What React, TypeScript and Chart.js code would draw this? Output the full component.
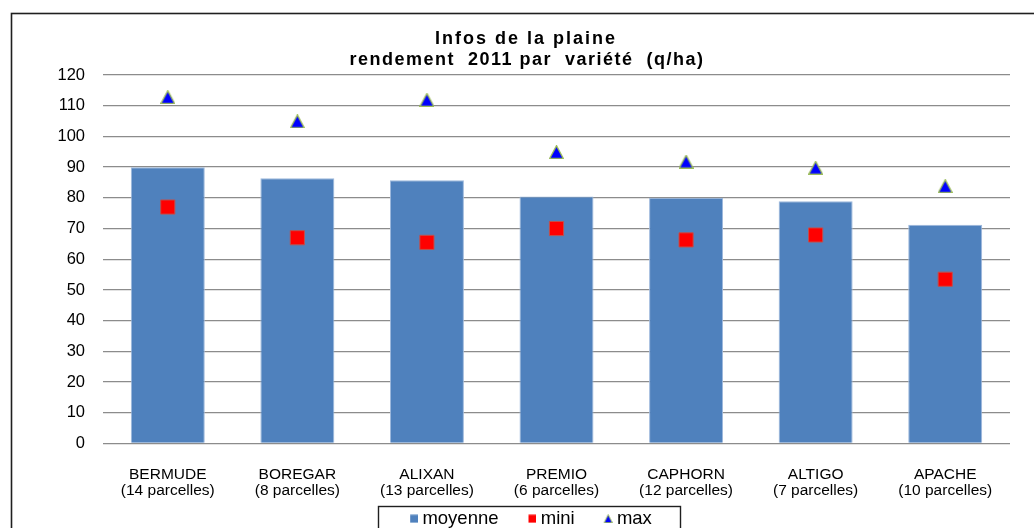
import React, { useEffect, useRef } from 'react';
import { Chart, registerables } from 'chart.js';

Chart.register(...registerables);

// ---- data ----
const categories: string[][] = [
  ['BERMUDE', '(14 parcelles)'],
  ['BOREGAR', '(8 parcelles)'],
  ['ALIXAN', '(13 parcelles)'],
  ['PREMIO', '(6 parcelles)'],
  ['CAPHORN', '(12 parcelles)'],
  ['ALTIGO', '(7 parcelles)'],
  ['APACHE', '(10 parcelles)'],
];
const moyenne = [90.0, 86.4, 85.7, 80.4, 80.0, 78.9, 71.2];
const mini = [77.0, 67.0, 65.5, 70.0, 66.3, 67.9, 53.5];
const maxi = [112.8, 104.9, 111.9, 94.9, 91.8, 89.8, 83.8];
const seriesNames = ['moyenne', 'mini', 'max'];
const titleLines = ['Infos de la plaine', 'rendement  2011 par  variété  (q/ha)'];
const yTicks = { min: 0, max: 120, step: 10 };

const FONT = '"Liberation Sans", Arial, Helvetica, sans-serif';
const BAR_COLOR = '#4f81bd';
const MINI_COLOR = '#ff0000';
const MINI_EDGE = '#c0504d';
const MAX_COLOR = '#0000ff';
const MAX_EDGE = '#9bbb59';
const LEG_BOX = 23; // legend slot width (pointStyleWidth)
const LEG_IMG = LEG_BOX + 10; // image is wider; symbol sits at its right end

function triangleImage(w: number, h: number, lw: number) {
  const c = document.createElement('canvas');
  c.width = w;
  c.height = h;
  const g = c.getContext('2d')!;
  const o = lw / 2;
  g.beginPath();
  g.moveTo(w / 2, o);
  g.lineTo(w - o, h - o);
  g.lineTo(o, h - o);
  g.closePath();
  g.fillStyle = MAX_COLOR;
  g.fill();
  g.strokeStyle = MAX_EDGE;
  g.lineWidth = lw;
  g.stroke();
  return c;
}

function legendImage(kind: 'square' | 'triangle', color: string, w: number) {
  const c = document.createElement('canvas');
  c.width = w;
  c.height = 9;
  const g = c.getContext('2d')!;
  if (kind === 'square') {
    g.fillStyle = color;
    g.fillRect(w - 8, 0.5, 8, 8);
  } else {
    g.beginPath();
    g.moveTo(w - 4.5, 0.5);
    g.lineTo(w - 0.5, 8.5);
    g.lineTo(w - 8.5, 8.5);
    g.closePath();
    g.fillStyle = MAX_COLOR;
    g.fill();
    g.strokeStyle = MAX_EDGE;
    g.lineWidth = 1;
    g.stroke();
  }
  return c;
}

const decor = {
  id: 'decor',
  beforeDraw(chart: any) {
    const ctx = chart.ctx;
    ctx.save();
    ctx.fillStyle = '#ffffff';
    ctx.fillRect(0, 0, chart.width, chart.height);
    ctx.restore();
  },
  afterDraw(chart: any) {
    const ctx = chart.ctx;
    ctx.save();
    // outer frame
    ctx.strokeStyle = '#1f1f1f';
    ctx.lineWidth = 1.6;
    ctx.strokeRect(11.5, 13.5, 1300, 800);
    // title
    ctx.font = `bold 18px ${FONT}`;
    ctx.fillStyle = '#000';
    ctx.textAlign = 'center';
    ctx.textBaseline = 'alphabetic';
    (ctx as any).letterSpacing = '2px';
    ctx.fillText(titleLines[0], 526, 44);
    (ctx as any).letterSpacing = '1.5px';
    ctx.fillText(titleLines[1], 527, 65);
    (ctx as any).letterSpacing = '0px';
    // legend frame
    const lg = chart.legend;
    const hb = lg && lg.legendHitBoxes;
    if (hb && hb.length) {
      const first = hb[0];
      const last = hb[hb.length - 1];
      const left = first.left + LEG_BOX - 3 - 32;
      const right = last.left + last.width + 28;
      const top = first.top - 4;
      ctx.strokeStyle = '#1f1f1f';
      ctx.lineWidth = 1.4;
      ctx.strokeRect(Math.round(left) + 0.5, Math.round(top) + 0.5, Math.round(right - left), 60);
    }
    ctx.restore();
  },
};

export default function App() {
  const ref = useRef<HTMLCanvasElement | null>(null);

  useEffect(() => {
    document.body.style.margin = '0';
    document.body.style.overflow = 'hidden';
    const canvas = ref.current;
    if (!canvas) return;
    const triMarker = triangleImage(15, 14, 1.3);
    const legMoy = legendImage('square', BAR_COLOR, LEG_IMG);
    const legMini = legendImage('square', MINI_COLOR, LEG_IMG);
    const legMax = legendImage('triangle', MAX_COLOR, LEG_IMG);

    const chart = new Chart(canvas, {
      data: {
        labels: categories,
        datasets: [
          {
            type: 'bar',
            label: seriesNames[0],
            data: moyenne,
            backgroundColor: BAR_COLOR,
            borderColor: '#9db8dc',
            borderWidth: 1,
            barPercentage: 0.571,
            categoryPercentage: 1,
            order: 1,
          } as any,
          {
            type: 'line',
            label: seriesNames[1],
            data: mini,
            showLine: false,
            pointStyle: 'rect',
            pointRadius: 10,
            pointHoverRadius: 10,
            pointBackgroundColor: MINI_COLOR,
            pointBorderColor: MINI_EDGE,
            pointBorderWidth: 1,
            backgroundColor: MINI_COLOR,
            borderColor: MINI_EDGE,
            order: 0,
          } as any,
          {
            type: 'line',
            label: seriesNames[2],
            data: maxi,
            showLine: false,
            pointStyle: triMarker,
            pointRadius: 8,
            backgroundColor: MAX_COLOR,
            borderColor: MAX_EDGE,
            order: 0,
          } as any,
        ],
      },
      options: {
        responsive: false,
        animation: false,
        layout: { padding: { top: 75, left: 32, right: 24, bottom: 0 } },
        font: { family: FONT },
        plugins: {
          title: { display: false },
          tooltip: { enabled: false },
          legend: {
            display: true,
            position: 'bottom',
            labels: {
              usePointStyle: true,
              pointStyleWidth: LEG_BOX,
              boxHeight: 9,
              padding: 10,
              color: '#000',
              font: { family: FONT, size: 18.5 },
              generateLabels: () => [
                { text: seriesNames[0], fillStyle: BAR_COLOR, strokeStyle: BAR_COLOR, lineWidth: 0, pointStyle: legMoy, datasetIndex: 0, hidden: false, fontColor: '#000' },
                { text: seriesNames[1], fillStyle: MINI_COLOR, strokeStyle: MINI_COLOR, lineWidth: 0, pointStyle: legMini, datasetIndex: 1, hidden: false, fontColor: '#000' },
                { text: seriesNames[2], fillStyle: MAX_COLOR, strokeStyle: MAX_COLOR, lineWidth: 0, pointStyle: legMax, datasetIndex: 2, hidden: false, fontColor: '#000' },
              ] as any,
            },
          },
        },
        scales: {
          x: {
            type: 'category',
            offset: true,
            grid: { display: false, drawTicks: false },
            border: { display: false },
            ticks: {
              color: '#000',
              font: { family: FONT, size: 15.5, lineHeight: 1.06 },
              padding: 23,
              maxRotation: 0,
              autoSkip: false,
            },
            afterFit: (s: any) => {
              s.height = 56;
            },
          },
          y: {
            type: 'linear',
            min: yTicks.min,
            max: yTicks.max,
            grid: { color: '#8c8c8c', lineWidth: 1.3, drawTicks: false },
            border: { display: false },
            ticks: {
              stepSize: yTicks.step,
              color: '#000',
              font: { family: FONT, size: 16.5 },
              padding: 18,
            },
            afterFit: (s: any) => {
              s.width = 71;
            },
          },
        },
      } as any,
      plugins: [decor],
    });
    return () => chart.destroy();
  }, []);

  return (
    <div style={{ position: 'relative', width: 1034, height: 528, overflow: 'hidden', background: '#fff' }}>
      <canvas ref={ref} width={1034} height={538} style={{ display: 'block' }} />
    </div>
  );
}
